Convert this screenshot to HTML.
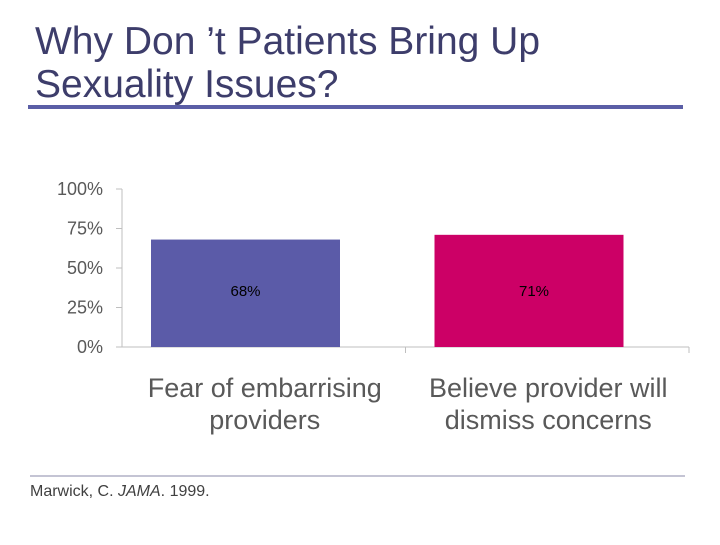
<!DOCTYPE html>
<html><head><meta charset="utf-8"><style>
body{margin:0;background:#fff;width:720px;height:540px;overflow:hidden;font-family:"Liberation Sans",sans-serif}
</style></head><body>
<svg width="720" height="540" viewBox="0 0 720 540" xmlns="http://www.w3.org/2000/svg" font-family="Liberation Sans, sans-serif">
<g>
<text x="35" y="54" font-size="39" fill="#3d3d6b">Why Don ’t Patients Bring Up</text>
<text x="35" y="97" font-size="39" fill="#3d3d6b">Sexuality Issues?</text>
</g>
<rect x="28" y="105" width="655" height="4" fill="#5b5ea6"/>
<g id="chart"></g>
<line x1="30" y1="476" x2="685" y2="476" stroke="#8a8aa8" stroke-width="1"/>
<text x="30" y="496" font-size="16" fill="#404040">Marwick, C. <tspan font-style="italic">JAMA</tspan>. 1999.</text>
</svg>
<script>
const categories=[["Fear of embarrising","providers"],["Believe provider will","dismiss concerns"]];
const values=[68,71];
const valueLabels=["68%","71%"];
const colors=["#5b5ba8","#cc0066"];
const tickValues=[0,25,50,75,100];
const tickLabels=["0%","25%","50%","75%","100%"];
const NS="http://www.w3.org/2000/svg";
const g=document.getElementById('chart');
const x0=122,x1=689,y0=347,y100=189;
const yS=v=>y0-(v/100)*(y0-y100);
const band=(x1-x0)/categories.length;
function mk(t,a,p){const e=document.createElementNS(NS,t);for(const k in a)e.setAttribute(k,a[k]);(p||g).appendChild(e);return e;}
const ax=mk('line',{x1:x0,y1:y100,x2:x0,y2:y0,stroke:'#bfbfbf'});


const bx=mk('line',{x1:x0-6,y1:y0,x2:x1,y2:y0,stroke:'#bfbfbf'});


tickValues.forEach((v,i)=>{
 const tk=mk('line',{x1:x0-6,y1:yS(v),x2:x0,y2:yS(v),stroke:'#bfbfbf'});
 
 
 const t=mk('text',{x:103,y:yS(v)+6,'font-size':18,fill:'#595959','text-anchor':'end'});
 t.textContent=tickLabels[i];
 
 
});
for(let i=1;i<=categories.length;i++){
 const s=mk('line',{x1:x0+band*i,y1:y0,x2:x0+band*i,y2:y0+6,stroke:'#bfbfbf'});
 
 
}
values.forEach((v,i)=>{
 const bw=189, bx0=x0+band*i+29, cx=x0+band*(i+0.5);
 const r=mk('rect',{x:bx0,y:yS(v),width:bw,height:y0-yS(v),fill:colors[i]});
 
 
 const vl=mk('text',{x:bx0+bw/2+i*5,y:yS(0)-51,'font-size':15,fill:'#000','text-anchor':'middle'});
 vl.textContent=valueLabels[i];
 
 
 categories[i].forEach((ln,j)=>{
  const c=mk('text',{x:cx+1,y:397+j*32,'font-size':27,fill:'#595959','text-anchor':'middle'});
  c.textContent=ln;
  
  
 });
});
</script>
</body></html>
